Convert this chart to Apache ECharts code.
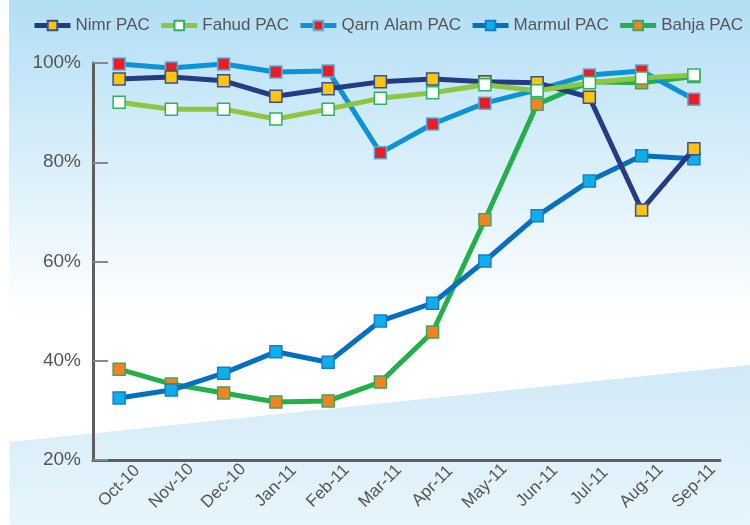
<!DOCTYPE html>
<html>
<head>
<meta charset="utf-8">
<script src="https://cdn.jsdelivr.net/npm/echarts@6/dist/echarts.min.js"></script>
<style>
  html, body { margin: 0; padding: 0; background: #fff; }
  #main { width: 750px; height: 525px; }
</style>
</head>
<body>
<div id="main"></div>
<script>
// months on the x axis
const months = ['Oct-10', 'Nov-10', 'Dec-10', 'Jan-11', 'Feb-11', 'Mar-11',
  'Apr-11', 'May-11', 'Jun-11', 'Jul-11', 'Aug-11', 'Sep-11'];
const yTicks = [20, 40, 60, 80, 100];

// values in %
const nimr = [96.8, 97.2, 96.4, 93.3, 94.8, 96.2, 96.8, 96.2, 96.0, 93.1, 70.4, 82.7];
const fahud = [92.1, 90.7, 90.7, 88.7, 90.7, 92.9, 94.0, 95.6, 94.4, 96.0, 97.0, 97.6];
const qarnAlam = [99.8, 99.0, 99.8, 98.2, 98.4, 81.9, 87.7, 91.9, 94.6, 97.6, 98.4, 92.7];
const marmul = [32.5, 34.1, 37.5, 41.8, 39.7, 48.0, 51.6, 60.1, 69.2, 76.2, 81.3, 80.7];
const bahja = [38.3, 35.3, 33.5, 31.7, 31.9, 35.7, 45.8, 68.4, 91.7, 96.2, 96.0, 97.3];

const font = "'Liberation Sans', Arial, sans-serif";

function line(name, data, lineColor, markColor, borderColor, z) {
  return {
    name: name,
    type: 'line',
    z: z,
    data: data,
    symbol: 'rect',
    symbolSize: 12,
    lineStyle: { color: lineColor, width: 5 },
    itemStyle: { color: markColor, borderColor: borderColor || lineColor, borderWidth: 1.5 },
    emphasis: { disabled: true }
  };
}

const chart = echarts.init(document.getElementById('main'), null, { renderer: 'canvas' });

const option = {
  animation: false,
  backgroundColor: {
    type: 'linear', x: 0, y: 0, x2: 0, y2: 1,
    colorStops: [
      { offset: 0, color: '#b2def5' },
      { offset: 0.6, color: '#ffffff' },
      { offset: 1, color: '#ffffff' }
    ]
  },
  graphic: [
    {
      type: 'polygon',
      z: -10,
      shape: { points: [[10, 442], [750, 365], [750, 525], [10, 525]] },
      style: {
        fill: {
          type: 'linear', x: 0, y: 0, x2: 0, y2: 1,
          colorStops: [
            { offset: 0, color: '#d1eaf7' },
            { offset: 1, color: '#e8f5fc' }
          ]
        }
      }
    },
    {
      type: 'rect',
      z: -9,
      shape: { x: 0, y: 0, width: 9, height: 525 },
      style: { fill: '#ffffff' }
    }
  ],
  legend: {
    top: 17,
    left: 32,
    width: 718,
    padding: 0,
    itemGap: 9,
    itemWidth: 36,
    itemHeight: 12,
    lineStyle: { width: 5 },
    textStyle: { fontFamily: font, fontSize: 17, color: '#555' },
    data: ['Nimr PAC', 'Fahud PAC', 'Qarn Alam PAC', 'Marmul PAC', 'Bahja PAC']
  },
  grid: { left: 93, right: 30, top: 63, bottom: 65 },
  xAxis: {
    type: 'category',
    data: months,
    boundaryGap: true,
    axisLine: { lineStyle: { color: '#5e5e5e', width: 3 } },
    axisTick: { inside: true, length: 9, lineStyle: { color: '#777', width: 2 } },
    axisLabel: { rotate: 45, align: 'center', verticalAlign: 'middle', fontFamily: font, fontSize: 17, color: '#555', margin: 26 }
  },
  yAxis: {
    type: 'value',
    min: yTicks[0],
    max: yTicks[yTicks.length - 1],
    interval: 20,
    axisLine: { show: true, lineStyle: { color: '#5e5e5e', width: 3 } },
    axisTick: { show: true, inside: true, length: 15, lineStyle: { color: '#888', width: 2 } },
    splitLine: { show: false },
    axisLabel: { formatter: '{value}%', fontFamily: font, fontSize: 19, color: '#555', margin: 12 }
  },
  series: [
    line('Nimr PAC', nimr, '#243c83', '#fcc30f', '#3a4f8f', 4),
    line('Fahud PAC', fahud, '#8dc63f', '#ffffff', '#2db35f', 5),
    line('Qarn Alam PAC', qarnAlam, '#0a93d6', '#ec1c24', '#4fb0e0', 3),
    line('Marmul PAC', marmul, '#0570bf', '#0daeea', '#1a7dc6', 2),
    line('Bahja PAC', bahja, '#23b04a', '#f58220', '#3aa85a', 1)
  ]
};

chart.setOption(option);
</script>
</body>
</html>
